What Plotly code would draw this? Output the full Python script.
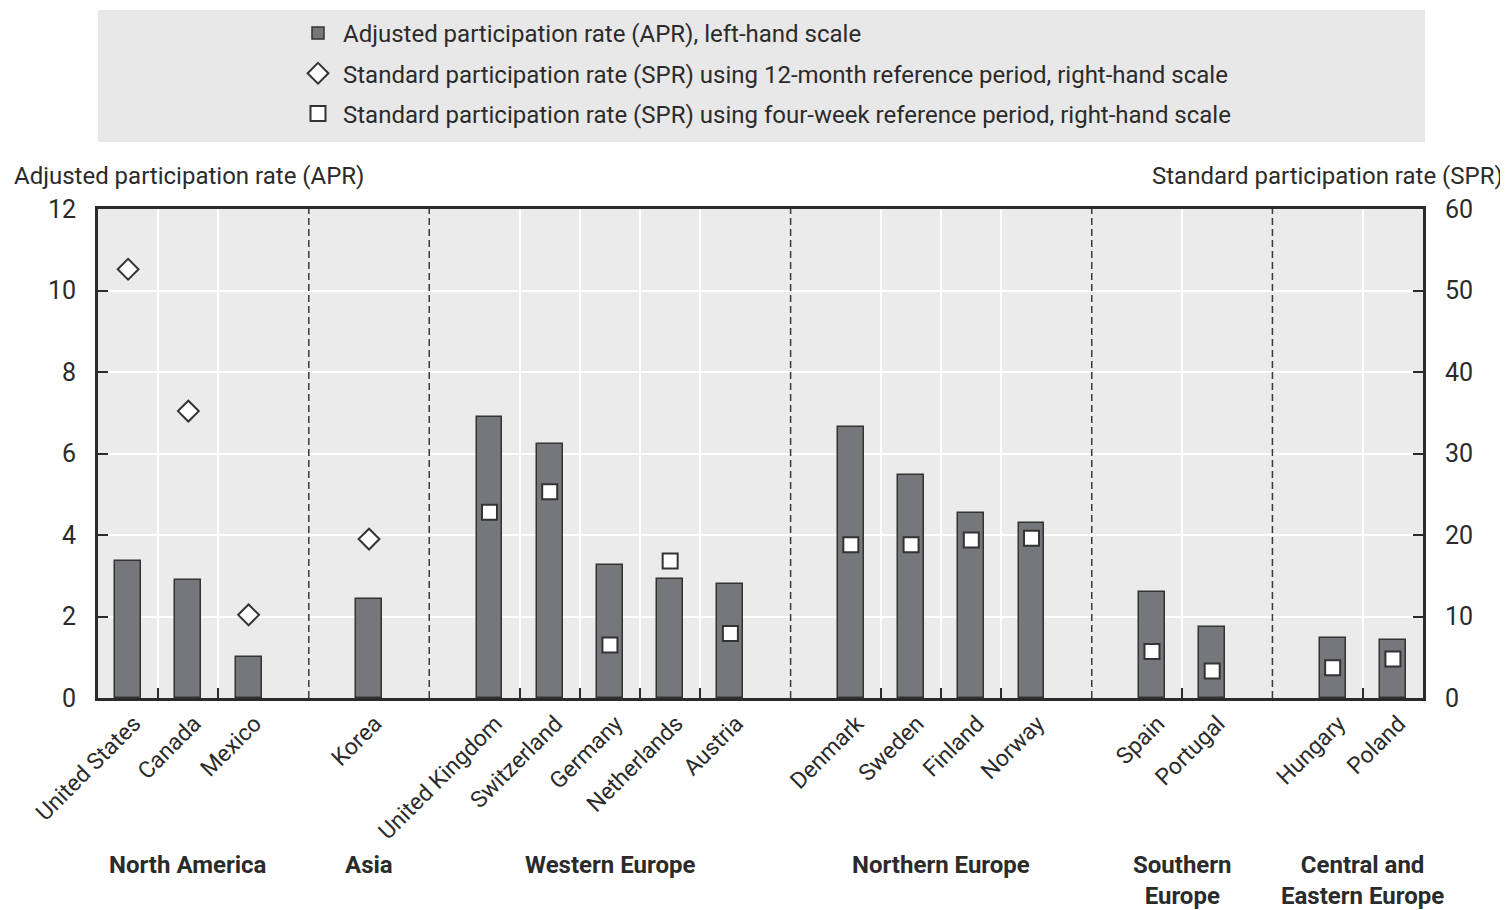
import plotly.graph_objects as go

# ---------------- data ----------------
groups = ["North America", "Asia", "Western Europe", "Northern Europe",
          "Southern<br>Europe", "Central and<br>Eastern Europe"]
group_countries = [
    ["United States", "Canada", "Mexico"],
    ["Korea"],
    ["United Kingdom", "Switzerland", "Germany", "Netherlands", "Austria"],
    ["Denmark", "Sweden", "Finland", "Norway"],
    ["Spain", "Portugal"],
    ["Hungary", "Poland"],
]
countries = [c for g in group_countries for c in g]

apr = [3.36, 2.90, 1.01, 2.43, 6.89, 6.23, 3.26, 2.93, 2.80,
       6.64, 5.47, 4.53, 4.29, 2.61, 1.75, 1.48, 1.43]
# SPR, 12-month reference period (right-hand scale)
spr12_countries = ["United States", "Canada", "Mexico", "Korea"]
spr12 = [52.6, 35.2, 10.2, 19.5]
# SPR, four-week reference period (right-hand scale)
spr4_countries = ["United Kingdom", "Switzerland", "Germany", "Netherlands", "Austria",
                  "Denmark", "Sweden", "Finland", "Norway", "Spain", "Portugal",
                  "Hungary", "Poland"]
spr4 = [22.8, 25.3, 6.5, 16.8, 7.9, 18.8, 18.8, 19.4, 19.6, 5.7, 3.3, 3.7, 4.8]

left_ticks = [0, 2, 4, 6, 8, 10, 12]
right_ticks = [0, 10, 20, 30, 40, 50, 60]

# ---------------- positions (one empty slot between groups) ----------------
pos = {}
separators, inner_bounds, group_centers = [], [], []
s = 0
for gi, g in enumerate(group_countries):
    start = s
    for j, c in enumerate(g):
        pos[c] = s
        if j > 0:
            inner_bounds.append(s - 0.5)
        s += 1
    group_centers.append((start + s - 1) / 2)
    if gi < len(group_countries) - 1:
        separators.append(s)
        s += 1
xmax = s - 0.5

FONT = "Roboto, Arial, sans-serif"
DARK = "#2b2b2b"

# page body has an 8px margin: figure coordinates are shifted by -8
OFF = 8
PL, PT, PW, PH = 98 - OFF, 209 - OFF, 1325, 489

def px_x(x):  # screenshot pixel -> paper x
    return (x - OFF - PL) / PW

def px_y(y):  # screenshot pixel -> paper y
    return (PT + PH - (y - OFF)) / PH

fig = go.Figure()
fig.add_trace(go.Bar(
    x=[pos[c] for c in countries], y=apr, width=0.43, legendgroup="a",
    name="Adjusted participation rate (APR), left-hand scale",
    marker=dict(color="#76777a", line=dict(color="#333333", width=1.5)),
))
fig.add_trace(go.Scatter(
    x=[pos[c] for c in spr12_countries], y=spr12, yaxis="y2", mode="markers",
    legendgroup="b",
    name="Standard participation rate (SPR) using 12-month reference period, right-hand scale",
    marker=dict(symbol="diamond", size=16, color="white", line=dict(color="#333333", width=2)),
))
fig.add_trace(go.Scatter(
    x=[pos[c] for c in spr4_countries], y=spr4, yaxis="y2", mode="markers",
    legendgroup="c",
    name="Standard participation rate (SPR) using four-week reference period, right-hand scale",
    marker=dict(symbol="square", size=15, color="white", line=dict(color="#333333", width=2)),
))

shapes = [dict(type="rect", xref="paper", yref="paper", x0=px_x(98), x1=px_x(1425),
               y0=px_y(142), y1=px_y(10),
               fillcolor="#e8e8e8", line=dict(width=0), layer="below")]
for sp in separators:
    shapes.append(dict(type="line", xref="x", yref="paper", x0=sp, x1=sp, y0=0, y1=1,
                       line=dict(color="#3a3a3a", width=1.5, dash="7px,4px"), layer="above"))

annotations = [
    dict(text="Adjusted participation rate (APR)", xref="paper", yref="paper",
         x=px_x(12), y=px_y(176), xanchor="left", yanchor="middle",
         showarrow=False, font=dict(size=24, color=DARK, family=FONT)),
    dict(text="Standard participation rate (SPR)", xref="paper", yref="paper",
         x=px_x(1505), y=px_y(176), xanchor="right", yanchor="middle",
         showarrow=False, font=dict(size=24, color=DARK, family=FONT)),
]
for gname, gc in zip(groups, group_centers):
    annotations.append(dict(text="<b>%s</b>" % gname, xref="x", yref="paper", x=gc,
                            y=px_y(849), xanchor="center", yanchor="top",
                            showarrow=False, align="center",
                            font=dict(size=24, color=DARK, family=FONT)))

fig.update_layout(
    width=1508 - OFF, height=910 - OFF,
    margin=dict(l=PL, r=1508 - OFF - PL - PW, t=PT, b=910 - OFF - PT - PH,
                autoexpand=False),
    paper_bgcolor="white", plot_bgcolor="#ebebeb",
    font=dict(family=FONT, size=24, color=DARK),
    showlegend=True,
    legend=dict(x=px_x(293), y=px_y(11), xanchor="left", yanchor="top",
                bgcolor="rgba(0,0,0,0)", font=dict(size=24, family=FONT, color=DARK),
                itemwidth=40, tracegroupgap=6),
    bargap=0,
    xaxis=dict(range=[-0.5, xmax], tickmode="array",
               tickvals=[pos[c] for c in countries], ticktext=countries,
               tickangle=-45, ticks="", showgrid=False, zeroline=False,
               showline=True, linecolor=DARK, linewidth=3, mirror=True,
               ticklabelshift=6,
               tickfont=dict(size=23, family=FONT, color=DARK),
               minor=dict(tickmode="array", tickvals=inner_bounds, ticks="inside",
                          ticklen=10, tickwidth=1.5, tickcolor=DARK,
                          showgrid=True, gridcolor="white", gridwidth=1.5)),
    yaxis=dict(range=[0, 12], tickvals=left_ticks, ticks="inside", ticklen=10,
               tickwidth=1.5, tickcolor=DARK, showgrid=True, gridcolor="white",
               gridwidth=1.5, zeroline=False, showline=True, linecolor=DARK, linewidth=3,
               ticklabelstandoff=14, tickfont=dict(size=25, family=FONT, color=DARK)),
    yaxis2=dict(range=[0, 60], tickvals=right_ticks, overlaying="y", side="right",
                ticks="inside", ticklen=10, tickwidth=1.5, tickcolor=DARK,
                showgrid=False, zeroline=False, showline=True, linecolor=DARK,
                linewidth=3, ticklabelstandoff=14,
                tickfont=dict(size=25, family=FONT, color=DARK)),
    shapes=shapes, annotations=annotations,
)

fig.write_html("out.html")
